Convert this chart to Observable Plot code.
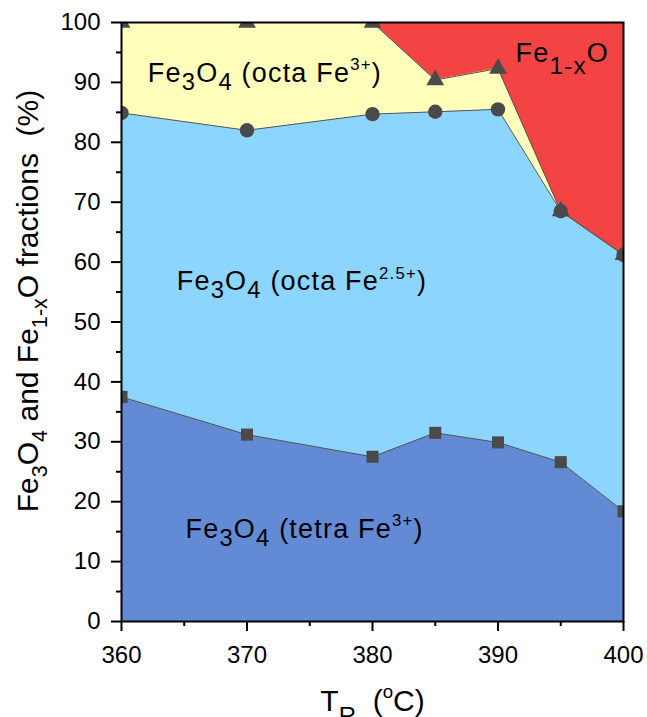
<!DOCTYPE html>
<html><head><meta charset="utf-8">
<script src="https://cdn.jsdelivr.net/npm/d3@7"></script>
<script src="https://cdn.jsdelivr.net/npm/@observablehq/plot@0.6"></script>
<style>body{margin:0;background:#fff} svg{display:block}</style>
</head><body><div id="chart"></div>
<script>
// ---- data ----
const temps = [360, 370, 380, 385, 390, 395, 400];
const tetraFe3Top = [37.5, 31.2, 27.5, 31.5, 29.9, 26.6, 18.4];   // squares
const octaFe25Top = [84.9, 82.0, 84.7, 85.1, 85.5, 68.5, 61.2];   // circles
const octaFe3Top  = [100, 100, 100, 90.4, 92.3, 68.5, 61.2];      // triangles
const xTicks = [360, 370, 380, 390, 400];
const xMinorTicks = [365, 375, 385, 395];
const yTicks = [0, 10, 20, 30, 40, 50, 60, 70, 80, 90, 100];
const yMinorTicks = [5, 15, 25, 35, 45, 55, 65, 75, 85, 95];
const regionNames = [
  "Fe_{3}O_{4} (tetra Fe^{3+})",
  "Fe_{3}O_{4} (octa Fe^{2.5+})",
  "Fe_{3}O_{4} (octa Fe^{3+})",
  "Fe_{1-x}O"
];
const regionLabelT = [365.1, 364.4, 362.1, 391.4];
const regionLabelV = [14.0, 55.3, 90.1, 93.4];
const yTitle = "Fe_{3}O_{4} and Fe_{1-x}O fractions  (%)";
const xTitle = "T_{R}  (^{o}C)";

const rows = temps.map((t, i) => ({t, tetra: tetraFe3Top[i], octa25: octaFe25Top[i], octa3: octaFe3Top[i]}));
const labels = regionNames.map((text, i) => ({text, t: regionLabelT[i], v: regionLabelV[i]}));

const lineColor = "#555";
const markColor = "#4a4a4a";

const chart = Plot.plot({
  width: 647, height: 717,
  marginLeft: 121, marginRight: 24, marginTop: 22, marginBottom: 96,
  x: {domain: [360, 400], axis: null},
  y: {domain: [0, 100], axis: null},
  style: {fontFamily: "'Liberation Sans', Arial, sans-serif", fontSize: "24px", background: "white", color: "black", overflow: "visible"},
  marks: [
    Plot.areaY(rows, {x: "t", y1: 0, y2: "tetra", fill: "#628ad5"}),
    Plot.areaY(rows, {x: "t", y1: "tetra", y2: "octa25", fill: "#8cd5fe"}),
    Plot.areaY(rows, {x: "t", y1: "octa25", y2: "octa3", fill: "#ffffbb"}),
    Plot.areaY(rows, {x: "t", y1: "octa3", y2: 100, fill: "#f44343"}),
    Plot.lineY(rows, {x: "t", y: "tetra", stroke: lineColor, strokeWidth: 1}),
    Plot.lineY(rows, {x: "t", y: "octa25", stroke: lineColor, strokeWidth: 1}),
    Plot.lineY(rows, {x: "t", y: "octa3", stroke: lineColor, strokeWidth: 1}),
    Plot.dot(rows, {x: "t", y: "tetra", symbol: "square", r: 6.8, fill: markColor, stroke: "none", clip: true}),
    Plot.dot(rows, {x: "t", y: "octa25", symbol: "circle", r: 7.2, fill: markColor, stroke: "none", clip: true}),
    Plot.dot(rows, {x: "t", y: "octa3", symbol: "triangle", r: 6.6, fill: markColor, stroke: "none", clip: true}),
    Plot.frame({stroke: "black", strokeWidth: 2}),
    Plot.axisX(xTicks, {anchor: "bottom", tickSize: 10, tickPadding: 14, strokeWidth: 2, fontSize: 24, label: null, tickFormat: d => String(d)}),
    Plot.axisX(xMinorTicks, {anchor: "bottom", tickSize: 5, strokeWidth: 2, label: null, tickFormat: () => ""}),
    Plot.axisY(yTicks, {anchor: "left", tickSize: 10, tickPadding: 11, strokeWidth: 2, fontSize: 24, label: null, tickFormat: d => String(d)}),
    Plot.axisY(yMinorTicks, {anchor: "left", tickSize: 5, strokeWidth: 2, label: null, tickFormat: () => ""}),
    Plot.text(labels, {x: "t", y: "v", text: "text", textAnchor: "start", lineAnchor: "bottom", fontSize: 27, fill: "black"}),
    Plot.text([yTitle], {text: d => d, frameAnchor: "left", rotate: -90, dx: -84, dy: -21, textAnchor: "middle", lineAnchor: "bottom", fontSize: 30, fill: "black"}),
    Plot.text([xTitle], {text: d => d, frameAnchor: "bottom", dy: 89, textAnchor: "middle", lineAnchor: "bottom", fontSize: 30, fill: "black"})
  ]
});
document.getElementById("chart").appendChild(chart);

// ---- rich text (sub/superscripts) ----
const richSpec = {
  [yTitle]: {sub: [0.72, 0.33], sup: [0.6, 0.42], ls: 0},
  [xTitle]: {sub: [0.8, 0.45], sup: [0.62, 0.42], ls: 0},
  "Fe_{1-x}O": {sub: [0.9, 0.45], sup: [0.6, 0.42], ls: 1.2}
};
const defaultSpec = {sub: [0.88, 0.3], sup: [0.62, 0.42], ls: 1.2};
function parseRich(s) {
  const segs = []; const re = /([_^])\{([^}]*)\}/g; let last = 0, m;
  while ((m = re.exec(s))) {
    if (m.index > last) segs.push({t: s.slice(last, m.index), k: "n"});
    segs.push({t: m[2], k: m[1] === "_" ? "sub" : "sup"});
    last = re.lastIndex;
  }
  if (last < s.length) segs.push({t: s.slice(last), k: "n"});
  return segs;
}
chart.querySelectorAll("text").forEach(el => {
  const s = el.textContent;
  if (!/[_^]\{/.test(s)) return;
  const spec = richSpec[s] || defaultSpec;
  const fs = parseFloat(getComputedStyle(el).fontSize);
  el.textContent = "";
  el.style.whiteSpace = "pre";
  if (spec.ls) el.style.letterSpacing = spec.ls + "px";
  let cur = 0;
  for (const seg of parseRich(s)) {
    const ts = document.createElementNS("http://www.w3.org/2000/svg", "tspan");
    let off = 0, size = fs;
    if (seg.k === "sub") { size = fs * spec.sub[0]; off = fs * spec.sub[1]; }
    if (seg.k === "sup") { size = fs * spec.sup[0]; off = -fs * spec.sup[1]; }
    ts.setAttribute("dy", off - cur);
    ts.setAttribute("font-size", size);
    ts.textContent = seg.t;
    cur = off;
    el.appendChild(ts);
  }
});
</script>
</body></html>
